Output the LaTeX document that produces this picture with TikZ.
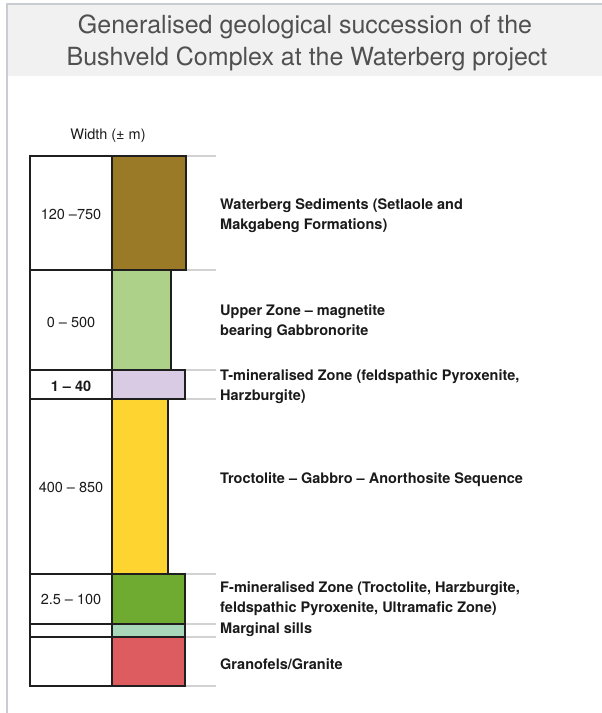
\documentclass[tikz,border=0pt]{standalone}
\usepackage{fontspec}
\setmainfont{TeX Gyre Heros}
\definecolor{headerbg}{HTML}{F1F1F1}
\definecolor{framegray}{HTML}{C9CDD1}
\definecolor{tickgray}{HTML}{D2D2D2}
\definecolor{titlegray}{HTML}{505050}
\definecolor{txt}{HTML}{1A1A1A}
\definecolor{cbrown}{HTML}{9A7A27}
\definecolor{clgreen}{HTML}{AED189}
\definecolor{clilac}{HTML}{D8CBE3}
\definecolor{cyellow}{HTML}{FED530}
\definecolor{cgreen}{HTML}{6FAB30}
\definecolor{csills}{HTML}{A9D7B9}
\definecolor{cred}{HTML}{DC5C60}
\begin{document}
\begin{tikzpicture}[x=1pt,y=-1pt,
  frameline/.style={draw=framegray,line width=1.6pt},
  layerbox/.style={draw=black!88,line width=1.3pt},
  tickline/.style={draw=tickgray,line width=1.4pt},
  titletext/.style={text=titlegray,font=\fontsize{25}{30}\selectfont,inner sep=0pt,anchor=base},
  numtext/.style={text=txt,font=\fontsize{14.5}{20}\selectfont,inner sep=0pt},
  labtext/.style={text=txt,font=\fontsize{14.5}{20}\selectfont\bfseries,inner sep=0pt,anchor=west,align=left}]
\useasboundingbox (0,0) rectangle (602,713);
% header
\fill[headerbg] (7,4) rectangle (602,76);
\draw[frameline] (7,713) -- (7,4) -- (602,4);
\node[titletext] (t1) at (305,33) {Generalised geological succession of the};
\node[titletext] (t2) at (307,65) {Bushveld Complex at the Waterberg project};
% column heading
\node[numtext] (wh) at (108,136) {Width (± m)};
% ticks
\foreach \yy in {156,270,370,399,574,624,637,686}
  \draw[tickline] (186,\yy) -- (216,\yy);
% width boxes
\draw[layerbox] (30,156) rectangle (112,270);
\draw[layerbox] (30,270) rectangle (112,370);
\draw[layerbox] (30,370) rectangle (112,399);
\draw[layerbox] (30,399) rectangle (112,574);
\draw[layerbox] (30,574) rectangle (112,624);
\draw[layerbox] (30,624) rectangle (112,637);
\draw[layerbox] (30,637) rectangle (112,686);
% coloured layers
\draw[layerbox,fill=cbrown] (112,156) rectangle (186,270);
\draw[layerbox,fill=clgreen] (112,270) rectangle (171,370);
\draw[layerbox,fill=clilac] (112,370) rectangle (185,399);
\draw[layerbox,fill=cyellow] (112,399) rectangle (168,574);
\draw[layerbox,fill=cgreen] (112,574) rectangle (185,624);
\draw[layerbox,fill=csills] (112,624) rectangle (185,637);
\draw[layerbox,fill=cred] (112,637) rectangle (185,686);
% width values
\node[numtext] (w1) at (71,214) {120 –750};
\node[numtext] (w2) at (71,322) {0 – 500};
\node[numtext,font=\fontsize{14.5}{20}\selectfont\bfseries] (w3) at (71,386) {1 – 40};
\node[numtext] (w4) at (71,487) {400 – 850};
\node[numtext] (w5) at (71,599) {2.5 – 100};
% descriptions
\node[labtext] (l1) at (220,216) {Waterberg Sediments (Setlaole and\\Makgabeng Formations)};
\node[labtext] (l2) at (220,322) {Upper Zone – magnetite\\bearing Gabbronorite};
\node[labtext] (l3) at (220,387) {T-mineralised Zone (feldspathic Pyroxenite,\\Harzburgite)};
\node[labtext] (l4) at (220,480) {Troctolite – Gabbro – Anorthosite Sequence};
\node[labtext] (l5) at (220,599) {F-mineralised Zone (Troctolite, Harzburgite,\\feldspathic Pyroxenite, Ultramafic Zone)};
\node[labtext] (l6) at (220,630) {Marginal sills};
\node[labtext] (l7) at (220,664) {Granofels/Granite};
\end{tikzpicture}
\end{document}
